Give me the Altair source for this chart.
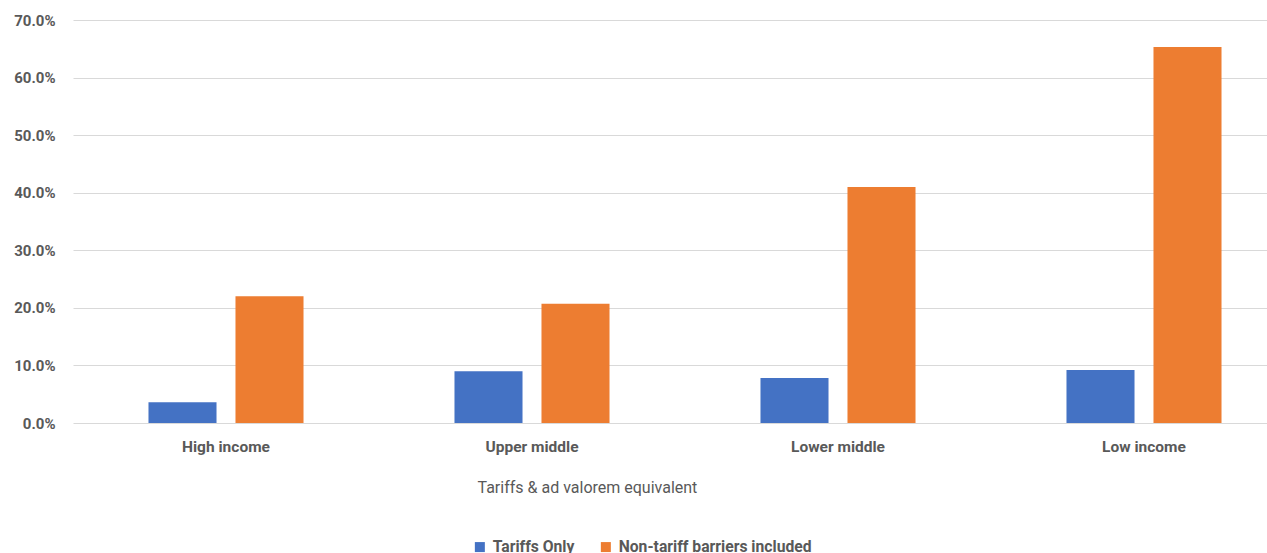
import altair as alt
import pandas as pd

categories = ["High income", "Upper middle", "Lower middle", "Low income"]
series = ["Tariffs Only", "Non-tariff barriers included"]
tariffs_only = [0.036, 0.090, 0.078, 0.092]
non_tariff = [0.220, 0.207, 0.410, 0.653]

rows = []
for c, a, b in zip(categories, tariffs_only, non_tariff):
    rows.append({"category": c, "series": series[0], "value": a})
    rows.append({"category": c, "series": series[1], "value": b})
df = pd.DataFrame(rows)

FONT = "Roboto"
GRAY = "#595959"

chart = alt.Chart(df).mark_bar().encode(
    x=alt.X("category:N", sort=categories,
            scale=alt.Scale(paddingInner=0, paddingOuter=0, range=[0, 1224]),
            axis=alt.Axis(title="Tariffs & ad valorem equivalent", labelAngle=0,
                          ticks=False, domain=False, labelPadding=16,
                          labelFontWeight="bold", labelFontSize=15.5, labelColor=GRAY,
                          titleFontWeight="normal", titleFontSize=16, titleColor=GRAY,
                          titlePadding=25, titleX=404, titleAlign="left", titleAnchor="start",
                          labelFont=FONT, titleFont=FONT)),
    xOffset=alt.XOffset("series:N", sort=series,
                        scale=alt.Scale(paddingInner=0.218, paddingOuter=0.8676)),
    y=alt.Y("value:Q", scale=alt.Scale(domain=[0, 0.7], nice=False),
            axis=alt.Axis(title=None, format=".1%", values=[0, 0.1, 0.2, 0.3, 0.4, 0.5, 0.6, 0.7],
                          ticks=False, domain=False, labelPadding=18,
                          labelFontWeight="bold", labelFontSize=15, labelColor=GRAY,
                          labelFont=FONT, gridColor="#d9d9d9", gridWidth=1)),
    color=alt.Color("series:N", sort=series,
                    scale=alt.Scale(domain=series, range=["#4472C4", "#ED7D31"]),
                    legend=alt.Legend(title=None, orient="none", legendX=399, legendY=519,
                                      direction="horizontal", symbolType="square",
                                      symbolSize=100, symbolStrokeWidth=0,
                                      labelFontSize=15.7, labelFontWeight="bold",
                                      labelColor=GRAY, labelFont=FONT, columnPadding=23,
                                      labelOffset=5, labelLimit=0, symbolOpacity=1)),
).properties(
    width=1194, height=403,
    autosize=alt.AutoSizeParams(type="none"),
    padding={"left": 73, "top": 20, "right": 0, "bottom": 130},
).configure_view(stroke=None)

chart.save("out.html", embed_options={"renderer": "svg", "actions": False})
